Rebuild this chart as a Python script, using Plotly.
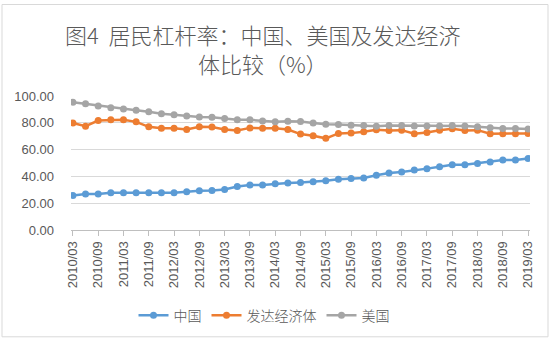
import plotly.graph_objects as go

quarters = ["2010/03","2010/06","2010/09","2010/12","2011/03","2011/06","2011/09","2011/12",
            "2012/03","2012/06","2012/09","2012/12","2013/03","2013/06","2013/09","2013/12",
            "2014/03","2014/06","2014/09","2014/12","2015/03","2015/06","2015/09","2015/12",
            "2016/03","2016/06","2016/09","2016/12","2017/03","2017/06","2017/09","2017/12",
            "2018/03","2018/06","2018/09","2018/12","2019/03"]

china = [25.8, 26.8, 26.8, 27.8, 27.8, 27.8, 27.8, 27.8, 27.8, 28.5, 29.3, 29.5, 30.3, 32.5, 33.5, 33.5,
         34.5, 35.0, 35.5, 36.0, 36.7, 37.9, 38.4, 38.8, 40.8, 42.6, 43.3, 44.8, 45.8, 47.2, 48.7, 48.7,
         49.7, 50.7, 52.2, 52.2, 53.4]
developed = [79.9, 77.5, 81.7, 82.2, 82.2, 80.7, 77.0, 76.0, 76.0, 75.0, 77.0, 76.8, 75.0, 74.3, 76.2, 76.0,
             76.0, 75.0, 71.6, 70.3, 68.4, 72.1, 72.3, 73.3, 74.8, 74.3, 74.5, 71.8, 72.8, 74.5, 75.5, 74.3,
             74.5, 71.8, 71.8, 71.8, 72.1]
usa = [95.4, 94.2, 92.5, 91.3, 90.3, 89.3, 88.3, 86.8, 86.1, 85.1, 84.4, 84.1, 83.2, 82.2, 82.2, 81.4,
       80.7, 81.2, 81.0, 79.9, 79.0, 78.7, 78.2, 78.0, 77.5, 78.0, 78.0, 77.7, 77.7, 77.7, 78.0, 77.7,
       77.0, 76.3, 75.8, 75.8, 75.3]

title_text = "图4  居民杠杆率：中国、美国及发达经济<br>体比较（%）"

series = [("中国", china, "#5B9BD5"), ("发达经济体", developed, "#ED7D31"), ("美国", usa, "#A5A5A5")]

fig = go.Figure()
for name, vals, color in series:
    fig.add_trace(go.Scatter(
        x=quarters, y=vals, name=name, mode="lines+markers",
        line=dict(color=color, width=2.5),
        marker=dict(color=color, size=7),
    ))

l, r, t, b = 71, 20, 95.5, 111
W, H = 550, 342
pw, ph = W - l - r, H - t - b

def py(pix):
    return (H - b - pix) / ph

def px(pix):
    return (pix - l) / pw

fig.update_layout(
    width=W, height=H,
    margin=dict(l=l, r=r, t=t, b=b),
    paper_bgcolor="white", plot_bgcolor="white",
    font=dict(family="Noto Sans CJK SC, Liberation Sans", color="#595959"),
    annotations=[dict(
        text=title_text, xref="paper", yref="paper", x=px(263), y=py(47.5),
        xanchor="center", yanchor="middle", showarrow=False, align="center",
        font=dict(size=22, color="#595959", family="Noto Sans CJK SC", weight=300),
    )],
    xaxis=dict(
        type="category",
        categoryorder="array", categoryarray=quarters,
        tickvals=quarters[::2], ticktext=quarters[::2],
        tickangle=-90,
        tickfont=dict(size=13, family="Liberation Sans", color="#595959"),
        showgrid=False, showline=True, linecolor="#BFBFBF", linewidth=1,
        ticks="outside", ticklen=5, tickcolor="#BFBFBF",
        range=[-0.15, 36.15],
    ),
    yaxis=dict(
        range=[0, 100], dtick=20, tickformat=".2f",
        tickfont=dict(size=13, family="Liberation Sans", color="#595959"),
        showgrid=True, gridcolor="#D9D9D9", gridwidth=1,
        zeroline=False, showline=False, ticks="",
        ticklabelstandoff=16,
    ),
    legend=dict(
        orientation="h", x=px(264), xanchor="center", y=py(316), yanchor="middle",
        font=dict(size=14, family="Noto Sans CJK SC", color="#595959", weight=300),
        itemwidth=30,
    ),
    shapes=[dict(
        type="rect", xref="paper", yref="paper",
        x0=px(2), x1=px(548),
        y0=py(339), y1=py(3),
        line=dict(color="#D9D9D9", width=1), fillcolor="rgba(0,0,0,0)", layer="below",
    )],
)

fig.write_html("out.html")
